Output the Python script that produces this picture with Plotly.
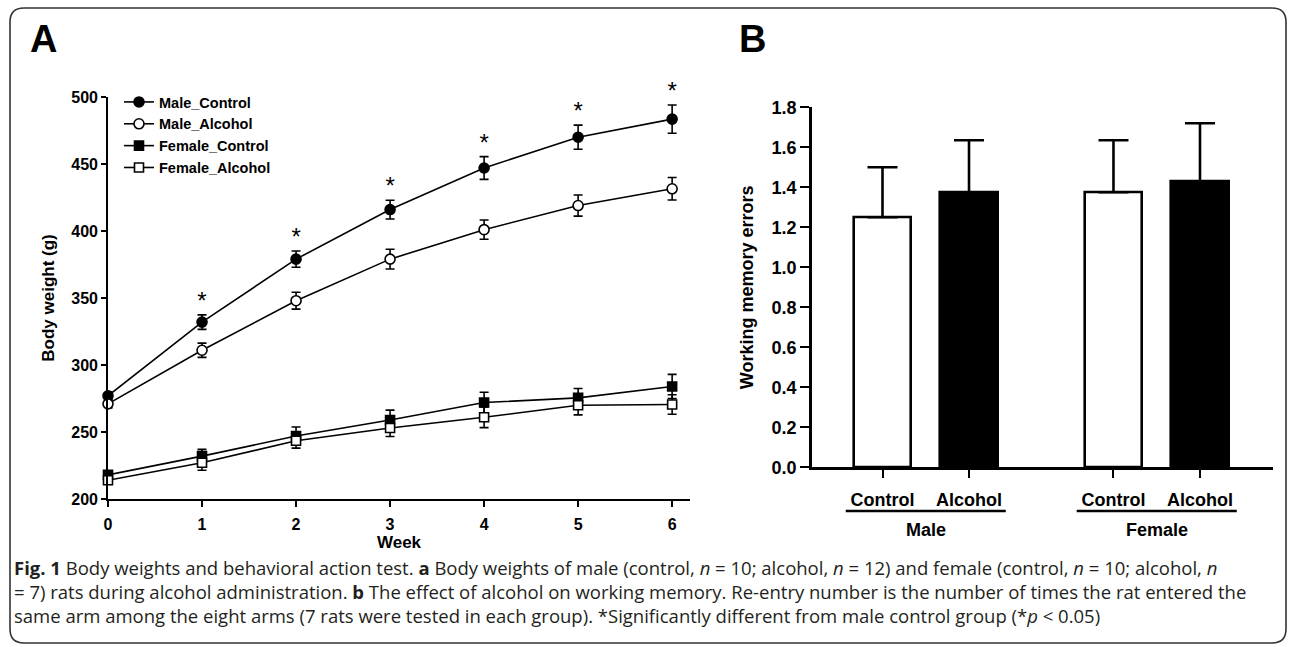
import plotly.graph_objects as go

W, H = 1290, 647

# ---------------- data: panel A (body weight, g) ----------------
weeks = [0, 1, 2, 3, 4, 5, 6]
male_control = [277, 332, 379, 416, 447, 470, 483.5]
male_control_sem = [3, 5.4, 6.1, 7, 8.5, 9, 10.5]
male_alcohol = [271, 311, 348, 379, 401, 419, 431.5]
male_alcohol_sem = [3, 5.3, 6.3, 7.4, 7.2, 7.9, 8.4]
female_control = [218, 232, 247, 259, 272, 275.5, 284]
female_control_sem = [2.5, 5, 6.7, 7.3, 7.7, 7, 9]
female_alcohol = [214, 227, 243.5, 253, 261, 270, 270.5]
female_alcohol_sem = [2.5, 5.5, 5.5, 6.4, 7.7, 7.2, 7.3]
signif_weeks = [1, 2, 3, 4, 5, 6]
a_yticks = [200, 250, 300, 350, 400, 450, 500]

# ---------------- data: panel B (working memory errors) ----------------
sexes = ["Male", "Female"]
treatments = ["Control", "Alcohol"]
wm_errors = [1.25, 1.375, 1.375, 1.43]
wm_sem = [0.25, 0.26, 0.26, 0.29]

caption_lines = [
    "<b>Fig. 1</b> Body weights and behavioral action test. <b>a</b> Body weights of male (control, <i>n</i> = 10; alcohol, <i>n</i> = 12) and female (control, <i>n</i> = 10; alcohol, <i>n</i>",
    "= 7) rats during alcohol administration. <b>b</b> The effect of alcohol on working memory. Re-entry number is the number of times the rat entered the",
    "same arm among the eight arms (7 rats were tested in each group). *Significantly different from male control group (*<i>p</i> &lt; 0.05)",
]

# ---------------- helpers ----------------
def fx(x):
    return x / W


def fy(y):
    return 1 - y / H


AX = "Arial, Liberation Sans, sans-serif"
BLACK = "#000000"

fig = go.Figure()

series = [
    ("Male_Control", male_control, male_control_sem, "circle", BLACK),
    ("Male_Alcohol", male_alcohol, male_alcohol_sem, "circle", "white"),
    ("Female_Control", female_control, female_control_sem, "square", BLACK),
    ("Female_Alcohol", female_alcohol, female_alcohol_sem, "square", "white"),
]
for name, vals, sem, sym, fill in series:
    fig.add_trace(go.Scatter(
        x=weeks, y=vals, name=name, mode="lines+markers",
        line=dict(color=BLACK, width=1.6),
        marker=dict(symbol=sym, size=10 if sym == "circle" else 9, color=fill,
                    line=dict(color=BLACK, width=1.6)),
        error_y=dict(type="data", array=sem, visible=True, color=BLACK,
                     thickness=1.6, width=4.5),
        cliponaxis=False, xaxis="x", yaxis="y",
    ))

# significance stars
idx = [weeks.index(w) for w in signif_weeks]
fig.add_trace(go.Scatter(
    x=signif_weeks,
    y=[male_control[i] + male_control_sem[i] for i in idx],
    mode="text", text=["*"] * len(idx), textposition="top center",
    textfont=dict(family=AX, size=24, color=BLACK),
    showlegend=False, hoverinfo="skip", cliponaxis=False,
    xaxis="x", yaxis="y",
))

# panel B bars
group_step = 2.67
xpos = [g * group_step + i for g in range(len(sexes)) for i in range(len(treatments))]
fills = ["white" if t == "Control" else BLACK for s in sexes for t in treatments]
ticktext = [t for s in sexes for t in treatments]
fig.add_trace(go.Bar(
    x=xpos, y=wm_errors, width=0.66,
    marker=dict(color=fills, line=dict(color=BLACK, width=2.6)),
    error_y=dict(type="data", symmetric=False, array=wm_sem,
                 arrayminus=[0] * len(wm_sem), color=BLACK, thickness=2.6, width=15),
    showlegend=False, xaxis="x2", yaxis="y2",
))

axis_common = dict(showline=True, linecolor=BLACK, showgrid=False, zeroline=False,
                   ticks="outside", tickcolor=BLACK, color=BLACK, automargin=False)

fig.update_layout(
    template="none",
    width=W, height=H, autosize=False,
    margin=dict(l=0, r=0, t=0, b=0, pad=0, autoexpand=False),
    paper_bgcolor="white", plot_bgcolor="rgba(0,0,0,0)",
    font=dict(family=AX, color=BLACK),
    bargap=0,
    xaxis=dict(domain=[fx(108), fx(690)], range=[0, 6.19], anchor="y",
               tickvals=weeks, ticklen=6, tickwidth=1.6, linewidth=1.6,
               tickfont=dict(size=16, family=AX, weight="bold"),
               ticklabelstandoff=4,
               title=dict(text="<b>Week</b>", font=dict(size=17), standoff=3),
               **axis_common),
    yaxis=dict(domain=[fy(499), fy(97)], range=[200, 500], anchor="x",
               tickvals=a_yticks, ticklen=5, tickwidth=1.6, linewidth=1.6,
               tickfont=dict(size=16, family=AX, weight="bold"),
               title=dict(text="<b>Body weight (g)</b>", font=dict(size=17), standoff=12),
               **axis_common),
    xaxis2=dict(domain=[fx(812), fx(1273)], range=[-0.815, 4.514], anchor="y2",
                tickvals=xpos, ticktext=ticktext, ticklen=8, tickwidth=2.2, linewidth=2.6,
                tickfont=dict(size=18, family=AX, weight="bold"),
                ticklabelstandoff=6,
                **axis_common),
    yaxis2=dict(domain=[fy(467.3), fy(107.3)], range=[0, 1.8], anchor="x2",
                dtick=0.2, tick0=0, tickformat=".1f", ticklen=9, tickwidth=2.2, linewidth=2.6,
                tickfont=dict(size=18, family=AX, weight="bold"),
                title=dict(text="<b>Working memory errors</b>", font=dict(size=18), standoff=14),
                **axis_common),
    legend=dict(x=fx(119), y=fy(86), xanchor="left", yanchor="top",
                bgcolor="rgba(0,0,0,0)", borderwidth=0, tracegroupgap=0,
                font=dict(size=14.5, family=AX, weight="bold", color=BLACK)),
    showlegend=True,
)

# group underline + labels for panel B
half = 0.925
for g, sex in enumerate(sexes):
    c = g * group_step + (len(treatments) - 1) / 2
    fig.add_shape(type="line", xref="x2", yref="paper", x0=c - half, x1=c + half,
                  y0=fy(511), y1=fy(511), line=dict(color=BLACK, width=2.6))
    fig.add_annotation(xref="x2", yref="paper", x=c, y=fy(530), text="<b>%s</b>" % sex,
                       showarrow=False, font=dict(size=18, family=AX, color=BLACK),
                       xanchor="center", yanchor="middle")

# panel letters
fig.add_annotation(xref="paper", yref="paper", x=fx(43), y=fy(39), text="<b>A</b>",
                   showarrow=False, font=dict(size=38, family=AX, color=BLACK),
                   xanchor="center", yanchor="middle")
fig.add_annotation(xref="paper", yref="paper", x=fx(752), y=fy(39), text="<b>B</b>",
                   showarrow=False, font=dict(size=38, family=AX, color=BLACK),
                   xanchor="center", yanchor="middle")

# caption (one text block)
fig.add_annotation(xref="paper", yref="paper", x=fx(12), y=fy(591), text="<br>".join(caption_lines),
                   showarrow=False, xanchor="left", yanchor="middle", align="left",
                   font=dict(size=18.5, family="Open Sans, sans-serif", color="#231f20"))

# rounded frame
L, T, R, B, r = 10, 8, 1286, 643, 14
path = (f"M {fx(L)},{fy(B - r)} L {fx(L)},{fy(T + r)} Q {fx(L)},{fy(T)} {fx(L + r)},{fy(T)} "
        f"L {fx(R - r)},{fy(T)} Q {fx(R)},{fy(T)} {fx(R)},{fy(T + r)} "
        f"L {fx(R)},{fy(B - r)} Q {fx(R)},{fy(B)} {fx(R - r)},{fy(B)} "
        f"L {fx(L + r)},{fy(B)} Q {fx(L)},{fy(B)} {fx(L)},{fy(B - r)} Z")
fig.add_shape(type="path", xref="paper", yref="paper", path=path,
              line=dict(color="#333333", width=1.6), layer="below")

fig.write_html("out.html", config={"displayModeBar": False},
               post_script="var s=document.createElement('style');s.innerHTML='html,body{margin:0;padding:0;overflow:hidden;}';document.head.appendChild(s);")
